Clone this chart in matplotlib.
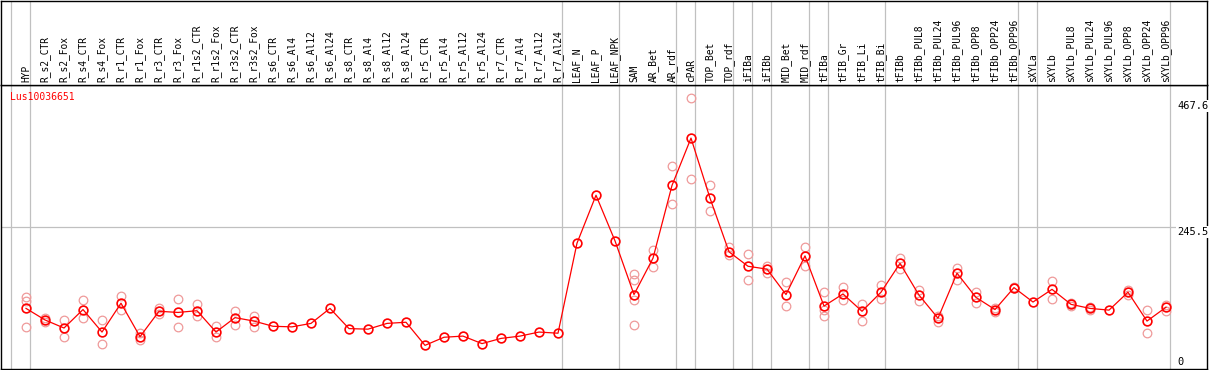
import matplotlib
matplotlib.use("Agg")
import matplotlib.pyplot as plt
import matplotlib.transforms as mtransforms
import numpy as np

# Sample names (header labels)
labels = [
    "HYP", "R_s2_CTR", "R_s2_Fox", "R_s4_CTR", "R_s4_Fox", "R_r1_CTR", "R_r1_Fox",
    "R_r3_CTR", "R_r3_Fox", "R_r1s2_CTR", "R_r1s2_Fox", "R_r3s2_CTR", "R_r3s2_Fox",
    "R_s6_CTR", "R_s6_Al4", "R_s6_Al12", "R_s6_Al24", "R_s8_CTR", "R_s8_Al4",
    "R_s8_Al12", "R_s8_Al24", "R_r5_CTR", "R_r5_Al4", "R_r5_Al12", "R_r5_Al24",
    "R_r7_CTR", "R_r7_Al4", "R_r7_Al12", "R_r7_Al24", "LEAF_N", "LEAF_P", "LEAF_NPK",
    "SAM", "AR_Bet", "AR_rdf", "cPAR", "TOP_Bet", "TOP_rdf", "iFIBa", "iFIBb",
    "MID_Bet", "MID_rdf", "tFIBa", "tFIB_Gr", "tFIB_Li", "tFIB_Bi", "tFIBb",
    "tFIBb_PUL8", "tFIBb_PUL24", "tFIBb_PUL96", "tFIBb_OPP8", "tFIBb_OPP24",
    "tFIBb_OPP96", "sXYLa", "sXYLb", "sXYLb_PUL8", "sXYLb_PUL24", "sXYLb_PUL96",
    "sXYLb_OPP8", "sXYLb_OPP24", "sXYLb_OPP96",
]

# Mean expression per sample
means = [105, 85, 71, 103, 64, 114, 56, 100, 98, 101, 64, 89, 83,
         74, 73, 79, 105, 70, 69, 79, 81, 41, 55, 57, 44, 53, 57, 64, 62,
         218, 301, 222, 129, 192, 318, 400, 296, 203, 178, 173, 129, 196,
         109, 130, 100, 133, 183, 128, 88, 166, 124, 103, 141, 116, 138,
         112, 105, 102, 133, 83, 107]

# Individual replicate values per sample
replicates = [
    [124, 118, 72], [89, 82], [85, 55], [120, 89], [85, 43], [126, 103], [63, 50],
    [105, 95], [121, 72], [113, 92], [74, 55], [100, 77], [91, 73],
    [], [], [], [], [], [], [], [], [], [], [], [], [], [], [], [],
    [], [], [],
    [165, 155, 119, 77], [206, 177], [351, 285], [469, 330], [318, 273], [212, 197],
    [199, 155], [179, 167], [150, 109], [211, 179], [133, 102, 91], [142, 120],
    [112, 83], [145, 121], [192, 174], [137, 117], [92, 82], [175, 154], [134, 114],
    [105, 99], [142, 140], [], [152, 122], [115, 110], [108, 102], [], [137, 129],
    [102, 63], [111, 101],
]

# group separators (drawn after these sample indices)
separators = [-1, 0, 28, 31, 34, 35, 37, 38, 39, 41, 42, 45, 52, 53, 60]

gene = "Lus10036651"
y_max_label = "467.6"
y_mid = 245.5

W, H = 1209, 370
fig = plt.figure(figsize=(W / 100, H / 100), dpi=100)
mono = "DejaVu Sans Mono"

# 19 px per sample, first sample at x=26 px
xlim = ((1 - 26) / 19, (1207 - 26) / 19)
ax = fig.add_axes([1 / W, 1 / H, 1206 / W, 284 / H])
hdr = fig.add_axes([1 / W, 285 / H, 1206 / W, 84 / H])

x = np.arange(len(labels))

for a in (ax, hdr):
    a.set_xlim(*xlim)
    a.set_xticks([])
    a.set_yticks([])
    for s in a.spines.values():
        s.set_color("black")
        s.set_linewidth(1.0)
    for sep in separators:
        a.axvline(sep + 4 / 19, color="#c0c0c0", lw=0.9, zorder=0)

ax.set_ylim(0, 492)
ax.axhline(y_mid, color="#c0c0c0", lw=0.9, zorder=0)

# replicate circles
for i, reps in enumerate(replicates):
    if reps:
        ax.plot([i] * len(reps), reps, "o", ms=6.2, mfc="none", mec="#ef9a9a", mew=0.9, zorder=2)

ax.plot(x, means, "-", color="red", lw=0.9, zorder=3)
ax.plot(x, means, "o", ms=6.3, mfc="none", mec="red", mew=1.2, zorder=4)

ax.text(9 / 1206, 0.958, gene, transform=ax.transAxes, color="red",
        fontsize=7, family=mono, va="center", ha="left")

# value labels on the right
trans = mtransforms.blended_transform_factory(ax.transData, ax.transAxes)
xl = (1177 - 26) / 19
for txt, yf in [(y_max_label, 0.926), (str(y_mid), 0.482), ("0", 0.025)]:
    ax.text(xl, yf, txt, transform=trans, fontsize=7.5, family=mono,
            va="center", ha="left",
            bbox=dict(facecolor="white", edgecolor="none", pad=0.5), zorder=5)

for i, lab in enumerate(labels):
    hdr.text(i, 3 / 84, lab, rotation=90, ha="center", va="bottom",
             fontsize=6.9, family=mono)

fig.savefig("out.png", dpi=100)
